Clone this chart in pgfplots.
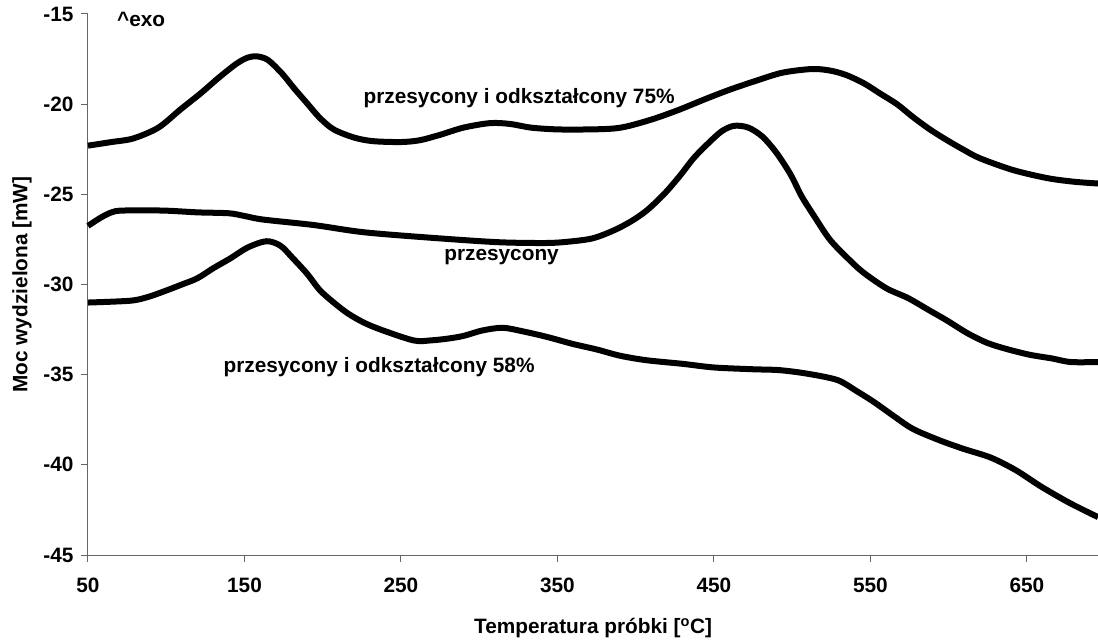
\documentclass[border=0pt]{standalone}
\usepackage{fontspec}
\setmainfont{Liberation Sans}
\usepackage{pgfplots}
\pgfplotsset{compat=1.18}
\tikzset{curve/.style={black, line width=6pt, smooth, mark=none, line join=round, line cap=butt}}
\newcommand{\bigbf}{\fontsize{20.8}{25}\selectfont\bfseries}
\begin{document}
\begin{tikzpicture}
\path[use as bounding box] (0,0) rectangle (1098pt,641pt);
\begin{axis}[
  at={(88pt,86pt)}, anchor=south west,
  scale only axis, width=1010pt, height=541pt,
  xmin=50, xmax=695.5, ymin=-45, ymax=-15,
  axis x line*=bottom, axis y line*=left,
  axis line style={-, line width=1pt, draw=black!60},
  xtick={50,150,...,650}, ytick={-45,-40,...,-15},
  xticklabels={50,150,250,350,450,550,650},
  yticklabels={-45,-40,-35,-30,-25,-20,-15},
  tick align=outside, major tick length=7pt,
  tick style={line width=1pt, draw=black!60},
  ticklabel style={font=\bigbf},
  xticklabel style={yshift=-12pt},
  yticklabel style={xshift=-4pt},
  xlabel={Temperatura próbki [\textsuperscript{o}C]},
  ylabel={Moc wydzielona [mW]},
  every axis x label/.style={at={(axis description cs:0.5,0)}, anchor=center, yshift=-73pt, font=\bigbf},
  every axis y label/.style={at={(axis description cs:-0.0654,0.5)}, anchor=center, rotate=90, font=\bigbf},
  clip=false,
]
\addplot[curve] coordinates {
(50,-22.3) (65,-22.1) (79,-21.9) (95,-21.3) (109,-20.3) (122,-19.4) (134,-18.5) (145,-17.75) (152,-17.42) (158,-17.35) (165,-17.55) (174,-18.3) (182,-19.15) (190,-19.95) (198,-20.75) (207,-21.4) (220,-21.85) (232,-22.05) (250,-22.1) (262,-22.0) (275,-21.7) (290,-21.3) (307,-21.05) (320,-21.1) (333,-21.3) (350,-21.4) (371,-21.4) (386,-21.35) (396,-21.2) (412,-20.8) (428,-20.3) (445,-19.7) (460,-19.2) (477,-18.7) (494,-18.25) (513,-18.05) (525,-18.15) (535,-18.4) (546,-18.85) (556,-19.4) (567,-20.0) (577,-20.7) (588,-21.4) (599,-22.0) (610,-22.55) (620,-23.0) (641,-23.65) (663,-24.1) (680,-24.3) (695.5,-24.4)
};
\addplot[curve] coordinates {
(50,-26.75) (58,-26.3) (65,-26.0) (72,-25.9) (98,-25.9) (120,-26.0) (140,-26.05) (150,-26.2) (162,-26.4) (194,-26.7) (226,-27.1) (268,-27.4) (311,-27.65) (340,-27.7) (354,-27.65) (372,-27.45) (386,-27.0) (397,-26.5) (407,-25.9) (418,-25.0) (428,-24.0) (437,-23.0) (446,-22.2) (455,-21.5) (463,-21.2) (472,-21.3) (481,-21.8) (490,-22.7) (499,-23.9) (506,-25.1) (514,-26.2) (524,-27.5) (535,-28.5) (545,-29.3) (560,-30.2) (574,-30.75) (587,-31.4) (599,-32.0) (612,-32.7) (625,-33.25) (638,-33.6) (652,-33.9) (666,-34.1) (678,-34.3) (695.5,-34.3)
};
\addplot[curve] coordinates {
(50,-31.0) (77,-30.9) (88,-30.7) (98,-30.4) (110,-30.0) (120,-29.65) (130,-29.1) (141,-28.55) (152,-27.95) (164,-27.6) (173,-27.85) (181,-28.55) (190,-29.4) (198,-30.3) (207,-31.0) (216,-31.6) (226,-32.1) (237,-32.5) (258,-33.1) (269,-33.1) (280,-33.0) (290,-32.85) (302,-32.55) (315,-32.4) (328,-32.6) (343,-32.9) (360,-33.3) (375,-33.6) (390,-33.95) (407,-34.2) (430,-34.4) (450,-34.6) (475,-34.7) (492,-34.75) (510,-34.95) (529,-35.3) (541,-35.9) (552,-36.5) (565,-37.3) (577,-38.0) (593,-38.6) (609,-39.1) (627,-39.6) (643,-40.3) (659,-41.2) (677,-42.1) (695.5,-42.9)
};
\begin{scope}[every node/.style={font=\bigbf, inner sep=0pt}]
\node at (axis cs:84,-15.28) {\^{}exo};
\node at (axis cs:325.5,-19.65) {przesycony i odkształcony 75\%};
\node at (axis cs:314.3,-28.5) {przesycony};
\node at (axis cs:236,-34.6) {przesycony i odkształcony 58\%};
\end{scope}
\end{axis}
\end{tikzpicture}
\end{document}
